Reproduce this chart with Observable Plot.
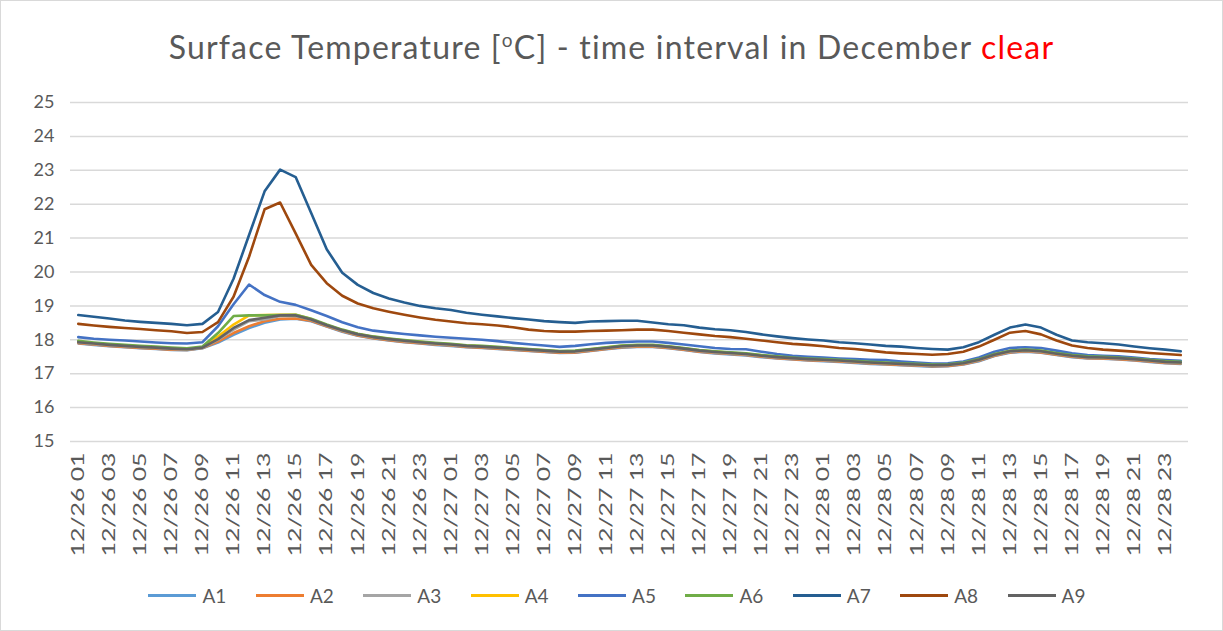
<!DOCTYPE html>
<html>
<head>
<meta charset="utf-8">
<script src="https://cdn.jsdelivr.net/npm/d3@7"></script>
<script src="https://cdn.jsdelivr.net/npm/@observablehq/plot@0.6"></script>
<style>
  html, body { margin: 0; padding: 0; background: #fff; }
  #frame { position: relative; width: 1221px; height: 629px; border: 1px solid #d9d9d9; overflow: hidden; font-family: Lato, "Open Sans", sans-serif; }
  #title { height: 79px; line-height: 78px; text-align: center; font-size: 32px; letter-spacing: 1.2px; color: #595959; white-space: nowrap; }
  #title sup { font-size: 19px; }
  #title .red { color: #ff0000; }
  #chart svg { display: block; }
  #legend { display: flex; justify-content: center; align-items: center; gap: 29.5px; margin-top: 14px; padding-left: 11px; font-size: 19px; color: #595959; }
  .item { display: flex; align-items: center; gap: 6px; }
  .sw { width: 48px; height: 3px; }
</style>
</head>
<body>
<div id="frame">
  <div id="title">Surface Temperature [<sup>o</sup>C] - time interval in December <span class="red">clear</span></div>
  <div id="chart"></div>
  <div id="legend"></div>
</div>
<script>
const categories = [
 "12/26 01","12/26 02","12/26 03","12/26 04","12/26 05","12/26 06","12/26 07","12/26 08","12/26 09","12/26 10","12/26 11","12/26 12",
 "12/26 13","12/26 14","12/26 15","12/26 16","12/26 17","12/26 18","12/26 19","12/26 20","12/26 21","12/26 22","12/26 23","12/27 00",
 "12/27 01","12/27 02","12/27 03","12/27 04","12/27 05","12/27 06","12/27 07","12/27 08","12/27 09","12/27 10","12/27 11","12/27 12",
 "12/27 13","12/27 14","12/27 15","12/27 16","12/27 17","12/27 18","12/27 19","12/27 20","12/27 21","12/27 22","12/27 23","12/28 00",
 "12/28 01","12/28 02","12/28 03","12/28 04","12/28 05","12/28 06","12/28 07","12/28 08","12/28 09","12/28 10","12/28 11","12/28 12",
 "12/28 13","12/28 14","12/28 15","12/28 16","12/28 17","12/28 18","12/28 19","12/28 20","12/28 21","12/28 22","12/28 23","12/29 00"
];
const xTickLabels = [
 "12/26 01","12/26 03","12/26 05","12/26 07","12/26 09","12/26 11","12/26 13","12/26 15","12/26 17","12/26 19","12/26 21","12/26 23",
 "12/27 01","12/27 03","12/27 05","12/27 07","12/27 09","12/27 11","12/27 13","12/27 15","12/27 17","12/27 19","12/27 21","12/27 23",
 "12/28 01","12/28 03","12/28 05","12/28 07","12/28 09","12/28 11","12/28 13","12/28 15","12/28 17","12/28 19","12/28 21","12/28 23"
];
const yTicks = [15,16,17,18,19,20,21,22,23,24,25];
const seriesNames = ["A1","A2","A3","A4","A5","A6","A7","A8","A9"];
const seriesColors = ["#5B9BD5","#ED7D31","#A5A5A5","#FFC000","#4472C4","#70AD47","#255E91","#9E480E","#636363"];

const A1 = [17.89,17.85,17.81,17.78,17.75,17.73,17.7,17.69,17.75,17.92,18.15,18.35,18.5,18.6,18.62,18.55,18.39,18.24,18.12,18.04,17.98,17.93,17.89,17.85,17.82,17.78,17.76,17.73,17.7,17.67,17.64,17.61,17.62,17.67,17.72,17.77,17.79,17.79,17.75,17.7,17.64,17.6,17.57,17.54,17.49,17.45,17.42,17.39,17.37,17.35,17.32,17.29,17.27,17.25,17.23,17.21,17.22,17.27,17.37,17.52,17.62,17.65,17.62,17.55,17.49,17.45,17.44,17.42,17.39,17.35,17.31,17.29];
const A2 = [17.9,17.86,17.82,17.79,17.76,17.74,17.71,17.7,17.76,17.95,18.2,18.4,18.55,18.62,18.63,18.56,18.4,18.25,18.13,18.05,17.99,17.94,17.9,17.86,17.83,17.79,17.77,17.74,17.71,17.68,17.65,17.62,17.63,17.68,17.73,17.78,17.8,17.8,17.76,17.71,17.65,17.61,17.58,17.55,17.5,17.46,17.43,17.4,17.38,17.36,17.33,17.3,17.28,17.26,17.24,17.22,17.23,17.28,17.38,17.53,17.63,17.66,17.63,17.56,17.5,17.46,17.45,17.43,17.4,17.36,17.32,17.3];
const A3 = [17.92,17.88,17.84,17.81,17.78,17.76,17.73,17.71,17.76,18.0,18.3,18.55,18.6,18.7,18.7,18.59,18.42,18.27,18.15,18.07,18.01,17.96,17.92,17.88,17.85,17.81,17.79,17.76,17.73,17.7,17.67,17.64,17.65,17.7,17.75,17.8,17.82,17.82,17.78,17.73,17.67,17.63,17.6,17.57,17.52,17.48,17.45,17.42,17.4,17.38,17.35,17.32,17.3,17.28,17.26,17.24,17.25,17.3,17.4,17.55,17.65,17.68,17.65,17.58,17.52,17.48,17.47,17.45,17.42,17.38,17.34,17.32];
const A4 = [17.95,17.9,17.86,17.83,17.8,17.78,17.75,17.73,17.78,18.1,18.45,18.72,18.73,18.74,18.74,18.61,18.44,18.29,18.17,18.09,18.03,17.98,17.94,17.9,17.87,17.83,17.81,17.78,17.75,17.72,17.69,17.66,17.67,17.72,17.77,17.82,17.84,17.84,17.8,17.75,17.69,17.65,17.62,17.59,17.54,17.5,17.47,17.44,17.42,17.4,17.37,17.34,17.32,17.3,17.28,17.26,17.27,17.32,17.42,17.57,17.67,17.71,17.67,17.6,17.54,17.5,17.49,17.47,17.44,17.4,17.36,17.34];
const A5 = [18.08,18.03,18.0,17.98,17.95,17.92,17.9,17.89,17.93,18.4,19.05,19.63,19.32,19.12,19.03,18.87,18.7,18.52,18.37,18.27,18.22,18.17,18.13,18.09,18.06,18.03,18.0,17.96,17.91,17.87,17.83,17.79,17.82,17.87,17.91,17.93,17.95,17.95,17.91,17.86,17.81,17.76,17.73,17.72,17.65,17.58,17.53,17.5,17.48,17.45,17.43,17.41,17.4,17.36,17.33,17.3,17.31,17.36,17.48,17.65,17.76,17.78,17.76,17.68,17.6,17.55,17.53,17.51,17.48,17.43,17.4,17.38];
const A6 = [17.97,17.92,17.88,17.85,17.82,17.8,17.77,17.75,17.8,18.2,18.7,18.72,18.72,18.73,18.74,18.62,18.45,18.3,18.18,18.1,18.04,17.99,17.95,17.91,17.88,17.84,17.82,17.79,17.76,17.73,17.7,17.67,17.68,17.73,17.78,17.83,17.85,17.85,17.81,17.76,17.7,17.66,17.63,17.6,17.55,17.51,17.48,17.45,17.43,17.41,17.38,17.35,17.33,17.31,17.29,17.27,17.28,17.33,17.43,17.58,17.68,17.71,17.68,17.61,17.55,17.51,17.5,17.48,17.45,17.41,17.37,17.35];
const A7 = [18.73,18.68,18.63,18.57,18.53,18.5,18.47,18.43,18.47,18.82,19.8,21.09,22.38,23.02,22.8,21.74,20.67,19.98,19.62,19.38,19.22,19.1,19.0,18.93,18.88,18.8,18.74,18.69,18.64,18.6,18.55,18.52,18.5,18.54,18.55,18.56,18.56,18.51,18.46,18.43,18.36,18.31,18.28,18.23,18.16,18.1,18.05,18.01,17.98,17.93,17.9,17.86,17.82,17.8,17.76,17.73,17.71,17.78,17.93,18.15,18.36,18.45,18.36,18.15,17.98,17.93,17.9,17.86,17.8,17.75,17.71,17.66];
const A8 = [18.47,18.42,18.38,18.35,18.32,18.28,18.25,18.2,18.23,18.52,19.27,20.45,21.85,22.05,21.14,20.21,19.67,19.3,19.07,18.93,18.83,18.74,18.66,18.59,18.54,18.49,18.46,18.42,18.37,18.3,18.26,18.24,18.24,18.26,18.27,18.28,18.3,18.3,18.26,18.21,18.16,18.11,18.08,18.03,17.98,17.93,17.88,17.85,17.81,17.76,17.73,17.68,17.63,17.6,17.58,17.56,17.58,17.65,17.8,18.0,18.21,18.26,18.16,17.98,17.83,17.76,17.71,17.68,17.65,17.61,17.58,17.55];
const A9 = [17.93,17.89,17.85,17.82,17.79,17.77,17.74,17.72,17.77,18.02,18.35,18.58,18.65,18.72,18.72,18.6,18.43,18.28,18.16,18.08,18.02,17.97,17.93,17.89,17.86,17.82,17.8,17.77,17.74,17.71,17.68,17.65,17.66,17.71,17.76,17.81,17.83,17.83,17.79,17.74,17.68,17.64,17.61,17.58,17.53,17.49,17.46,17.43,17.41,17.39,17.36,17.33,17.31,17.29,17.27,17.25,17.26,17.31,17.41,17.56,17.66,17.69,17.66,17.59,17.53,17.49,17.48,17.46,17.43,17.39,17.35,17.33];

const seriesValues = [A1, A2, A3, A4, A5, A6, A7, A8, A9];
const data = [];
seriesNames.forEach((name, k) => {
  seriesValues[k].forEach((v, i) => data.push({t: categories[i], v, s: name}));
});

const chart = Plot.plot({
  width: 1221,
  height: 490,
  marginTop: 22,
  marginBottom: 129,
  marginLeft: 69,
  marginRight: 34,
  style: {fontFamily: "Lato, 'Open Sans', sans-serif", color: "#595959", background: "#fff"},
  x: {type: "point", domain: categories, padding: 0.5},
  y: {domain: [15, 25]},
  color: {domain: seriesNames, range: seriesColors},
  marks: [
    Plot.gridY(yTicks, {stroke: "#d9d9d9", strokeOpacity: 1, strokeWidth: 1.5}),
    Plot.axisY(yTicks, {tickSize: 0, tickPadding: 16, fontSize: 18, fill: "#595959", tickFormat: d => String(d), label: null}),
    Plot.axisX(xTickLabels, {tickSize: 0, tickPadding: 11, tickRotate: -90, fontSize: 18, fill: "#595959", label: null}),
    Plot.lineY(data, {x: "t", y: "v", stroke: "s", z: "s", strokeWidth: 2.6})
  ]
});
document.getElementById("chart").appendChild(chart);

// stretch rotated tick labels to the reference's length
chart.querySelectorAll('g[aria-label="x-axis tick label"] text').forEach(t => {
  t.setAttribute("textLength", "104");
  t.setAttribute("lengthAdjust", "spacingAndGlyphs");
});

const legend = document.getElementById("legend");
seriesNames.forEach((name, k) => {
  const item = document.createElement("div");
  item.className = "item";
  const sw = document.createElement("div");
  sw.className = "sw";
  sw.style.background = seriesColors[k];
  const lab = document.createElement("span");
  lab.textContent = name;
  item.appendChild(sw);
  item.appendChild(lab);
  legend.appendChild(item);
});
</script>
</body>
</html>
